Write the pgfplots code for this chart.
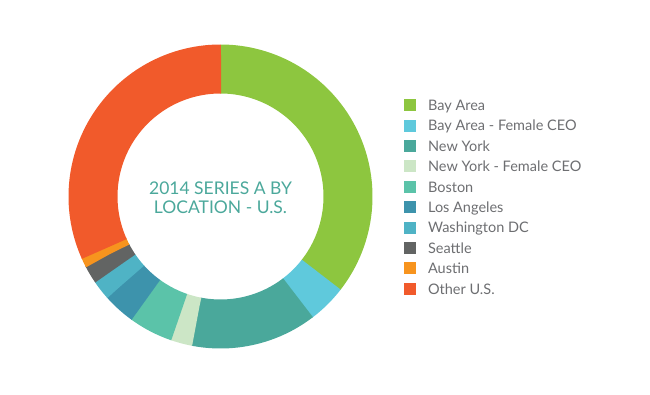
\documentclass[border=0pt]{standalone}
\usepackage{fontspec}
\setmainfont{Lato}
\usepackage{pgfplots}
\pgfplotsset{compat=1.18}
\definecolor{cBay}{HTML}{8DC63F}
\definecolor{cBayF}{HTML}{5FC9DC}
\definecolor{cNY}{HTML}{4AA89B}
\definecolor{cNYF}{HTML}{CCE6C6}
\definecolor{cBos}{HTML}{5BC3A9}
\definecolor{cLA}{HTML}{3D93AC}
\definecolor{cDC}{HTML}{4FB3C5}
\definecolor{cSea}{HTML}{626463}
\definecolor{cAus}{HTML}{F7941E}
\definecolor{cOth}{HTML}{F15A2B}
\definecolor{legtext}{HTML}{6D6E71}
\definecolor{titlecol}{HTML}{4BA89B}
\xdef\cum{0}
% #1 colour, #2 share in percent, #3 legend text
\newcommand{\wedgeplot}[3]{%
  \pgfmathsetmacro\phiA{90-3.6*(\cum+#2)-0.25}%
  \pgfmathsetmacro\phiB{90-3.6*\cum}%
  \pgfmathsetmacro\tmpcum{\cum+#2}\xdef\cum{\tmpcum}%
  \addplot[color=#1, line width=49pt, line cap=butt, domain=\phiA:\phiB, samples=120, forget plot]
    ({0.8388*cos(x)},{0.8388*sin(x)});
  \addlegendimage{legend image code/.code={\fill[#1] (0pt,-3.5pt) rectangle (11pt,7.5pt);}}
  \addlegendentry{#3}
}
\begin{document}
\begin{tikzpicture}
\useasboundingbox (0pt,0pt) rectangle (650pt,395pt);
\begin{axis}[
  at={(220.5pt,198.5pt)}, anchor=center,
  scale only axis, width=304pt, height=304pt,
  xmin=-1, xmax=1, ymin=-1, ymax=1,
  hide axis, clip=false,
  legend cell align=left,
  legend style={at={(1.1035,0.8207)}, anchor=north west, draw=none, fill=none,
    inner sep=0pt, row sep=6.2pt, column sep=12.5pt,
    font=\fontsize{14.5}{16}\selectfont, text=legtext,
    nodes={inner sep=0pt, text height=10pt, text depth=3pt}},
]
\wedgeplot{cBay}{35.5}{Bay Area}
\wedgeplot{cBayF}{4.1}{Bay Area - Female CEO}
\wedgeplot{cNY}{13.4}{New York}
\wedgeplot{cNYF}{2.25}{New York - Female CEO}
\wedgeplot{cBos}{4.7}{Boston}
\wedgeplot{cLA}{3.4}{Los Angeles}
\wedgeplot{cDC}{2.1}{Washington DC}
\wedgeplot{cSea}{1.9}{Seattle}
\wedgeplot{cAus}{0.9}{Austin}
\wedgeplot{cOth}{31.75}{Other U.S.}
\node[anchor=base, text=titlecol, font=\fontsize{17.5}{20}\selectfont, inner sep=0pt] at (axis cs:0,0.0164) {2014 SERIES A BY};
\node[anchor=base, text=titlecol, font=\fontsize{17.5}{20}\selectfont, inner sep=0pt] at (axis cs:0,-0.115) {LOCATION - U.S.};
\end{axis}
\end{tikzpicture}
\end{document}
